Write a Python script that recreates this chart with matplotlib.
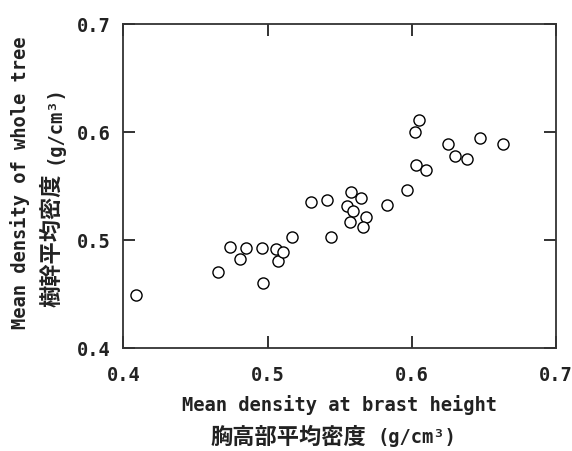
import matplotlib
matplotlib.use("Agg")
import matplotlib.pyplot as plt

plt.rcParams['font.family'] = ['DejaVu Sans Mono', 'Noto Sans CJK JP']

# mean density at breast height vs mean density of whole tree (g/cm3)
breast_density = [0.409, 0.466, 0.474, 0.481, 0.485, 0.496, 0.497, 0.506, 0.507,
                  0.511, 0.517, 0.530, 0.541, 0.544, 0.555, 0.558, 0.559, 0.557,
                  0.565, 0.568, 0.566, 0.583, 0.597, 0.603, 0.610, 0.602, 0.605,
                  0.625, 0.630, 0.638, 0.647, 0.663]
tree_density = [0.449, 0.471, 0.494, 0.483, 0.493, 0.493, 0.460, 0.492, 0.481,
                0.489, 0.503, 0.535, 0.537, 0.503, 0.532, 0.545, 0.527, 0.517,
                0.539, 0.522, 0.512, 0.533, 0.547, 0.570, 0.565, 0.600, 0.611,
                0.589, 0.578, 0.575, 0.595, 0.589]
ticks = [0.4, 0.5, 0.6, 0.7]
tick_labels = ["0.4", "0.5", "0.6", "0.7"]

fig = plt.figure(figsize=(5.72, 4.51), dpi=100)
ax = fig.add_axes([0.2155, 0.2277, 0.7566, 0.7185])

ax.plot(breast_density, tree_density, 'o', markersize=8, markerfacecolor='white',
        markeredgecolor='black', markeredgewidth=1.0, clip_on=False)

ax.set_xlim(0.4, 0.7)
ax.set_ylim(0.4, 0.7)
ax.set_xticks(ticks)
ax.set_yticks(ticks)
ax.set_xticklabels(tick_labels)
ax.set_yticklabels(tick_labels)
ax.tick_params(direction='in', length=8.5, width=1.3, top=True, right=True,
               labelsize=13.5, colors='#222222')
ax.tick_params(axis='x', pad=13)
ax.tick_params(axis='y', pad=9)
for lab in ax.get_xticklabels() + ax.get_yticklabels():
    lab.set_fontweight('bold')
for sp in ax.spines.values():
    sp.set_linewidth(1.3)
    sp.set_color('#333333')

cjk = ['Noto Sans CJK JP']
# axis labels, english line above, japanese line below
fig.text(0.5935, 0.102, "Mean density at brast height", ha='center', va='center',
         fontsize=13.5, fontweight='bold', color='#222222')
fig.text(0.504, 0.031, "胸高部平均密度", ha='center', va='center',
         fontsize=16, fontweight='bold', color='#222222', family=cjk)
fig.text(0.729, 0.031, "(g/cm³)", ha='center', va='center',
         fontsize=13.5, fontweight='bold', color='#222222')
fig.text(0.035, 0.594, "Mean density of whole tree", ha='center', va='center',
         rotation=90, fontsize=13.5, fontweight='bold', color='#222222')
fig.text(0.091, 0.468, "樹幹平均密度", ha='center', va='center',
         rotation=90, fontsize=16, fontweight='bold', color='#222222', family=cjk)
fig.text(0.094, 0.724, "(g/cm³)", ha='center', va='center',
         rotation=90, fontsize=13.5, fontweight='bold', color='#222222')

fig.savefig("out.png", dpi=100)
